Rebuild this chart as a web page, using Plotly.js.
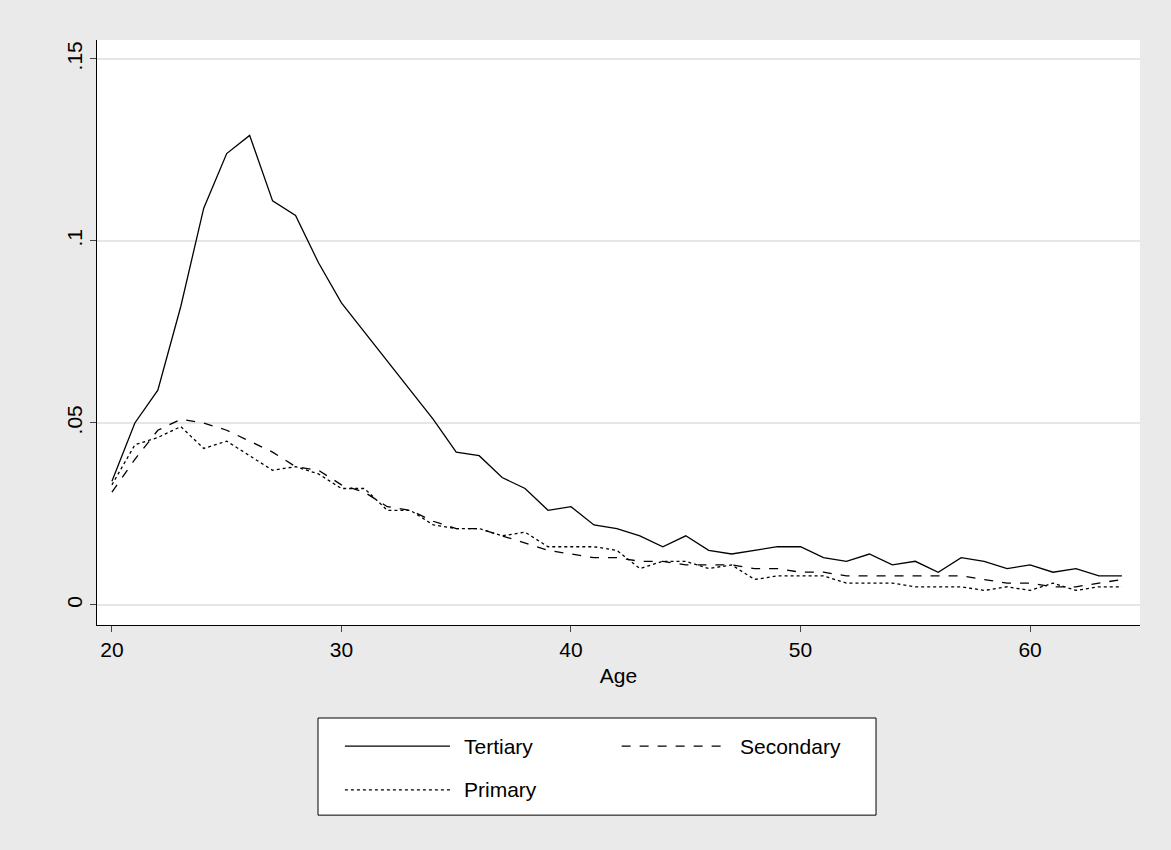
<!DOCTYPE html>
<html><head><script src="https://cdn.plot.ly/plotly-3.0.1.min.js"></script>
<style>body{margin:0;background:#eaeaea}</style></head>
<body><div id="c" style="width:1171px;height:850px"></div>
<script>
const age=[];for(let a=20;a<=64;a++)age.push(a);
const tertiary=[0.034,0.050,0.059,0.082,0.109,0.124,0.129,0.111,0.107,0.094,0.083,0.075,0.067,0.059,0.051,0.042,0.041,0.035,0.032,0.026,0.027,0.022,0.021,0.019,0.016,0.019,0.015,0.014,0.015,0.016,0.016,0.013,0.012,0.014,0.011,0.012,0.009,0.013,0.012,0.010,0.011,0.009,0.010,0.008,0.008];
const secondary=[0.031,0.040,0.048,0.051,0.050,0.048,0.045,0.042,0.038,0.037,0.033,0.031,0.027,0.026,0.023,0.021,0.021,0.019,0.017,0.015,0.014,0.013,0.013,0.012,0.012,0.011,0.011,0.011,0.010,0.010,0.009,0.009,0.008,0.008,0.008,0.008,0.008,0.008,0.007,0.006,0.006,0.005,0.005,0.006,0.007];
const primary=[0.033,0.044,0.046,0.049,0.043,0.045,0.041,0.037,0.038,0.036,0.032,0.032,0.026,0.026,0.022,0.021,0.021,0.019,0.020,0.016,0.016,0.016,0.015,0.010,0.012,0.012,0.010,0.011,0.007,0.008,0.008,0.008,0.006,0.006,0.006,0.005,0.005,0.005,0.004,0.005,0.004,0.006,0.004,0.005,0.005];
const names=['Tertiary','Secondary','Primary'], dashes=['solid','dash','dot'];
const xticks=[20,30,40,50,60];
const yticks=[0,0.05,0.1,0.15], ylabels=['0','.05','.1','.15'];
const series=[tertiary,secondary,primary];
const traces=series.map((y,i)=>({x:age,y:y,name:names[i],type:'scatter',mode:'lines',showlegend:false,line:{color:'#000',width:1.3,dash:dashes[i]}}));
// manual legend (2 columns) in paper coords
const pos=[[0.2377,-0.207],[0.503,-0.207],[0.2377,-0.282]];
const shapes=[{type:'rect',xref:'paper',yref:'paper',x0:0.2119,x1:0.7469,y0:-0.159,y1:-0.325,fillcolor:'#fff',line:{color:'#000',width:1}}];
const ann=[];
pos.forEach((p,i)=>{
 shapes.push({type:'line',xref:'paper',yref:'paper',x0:p[0],x1:p[0]+0.1007,y0:p[1],y1:p[1],line:{color:'#000',width:1.3,dash:dashes[i]}});
 ann.push({xref:'paper',yref:'paper',x:p[0]+0.112,y:p[1],xanchor:'left',yanchor:'middle',showarrow:false,text:names[i],font:{size:21}});
});
Plotly.newPlot('c',traces,{
width:1171,height:850,paper_bgcolor:'#eaeaea',plot_bgcolor:'#fff',
font:{family:'Liberation Sans, Arial',size:20,color:'#000'},
margin:{l:97,r:31,t:40,b:225},showlegend:false,shapes:shapes,annotations:ann,
xaxis:{range:[19.35,64.79],tickvals:xticks,ticks:'outside',ticklen:6,showgrid:false,zeroline:false,showline:true,linecolor:'#000',tickfont:{size:21},title:{text:'Age',font:{size:21},standoff:8}},
yaxis:{range:[-0.0055,0.1552],tickvals:yticks,ticktext:ylabels,tickangle:-90,ticks:'outside',ticklen:6,tickfont:{size:21},showgrid:true,gridcolor:'#e6e6e6',gridwidth:1.5,zeroline:false,showline:true,linecolor:'#000'}
},{displayModeBar:false});
</script></body></html>
